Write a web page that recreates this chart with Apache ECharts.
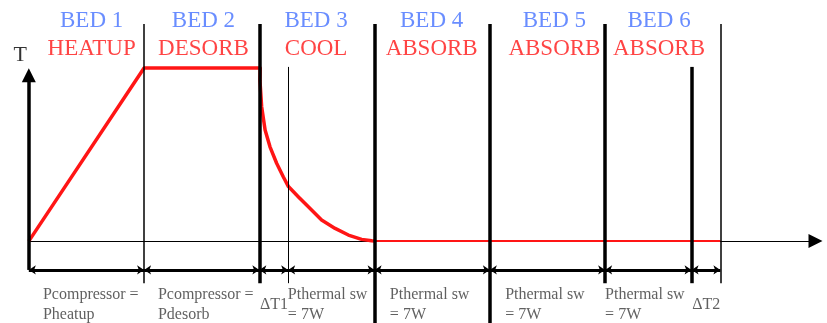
<!DOCTYPE html>
<html>
<head>
<meta charset="utf-8">
<script src="https://cdn.jsdelivr.net/npm/echarts@6/dist/echarts.min.js"></script>
<style>
  html, body { margin: 0; padding: 0; background: #fff; }
  #chart { width: 827px; height: 323px; }
</style>
</head>
<body>
<div id="chart"></div>
<script>
// ---- data (time units along the cycle, temperature in arbitrary units) ----
var boundaries = [0, 4, 8, 9, 12, 16, 20, 23, 24];          // segment edges
var mainDividers = [4, 8, 12, 16, 20, 24];                   // bed boundaries (tall)
var subDividers = [9, 23];                                   // short dividers
var bedNames = ['BED 1', 'BED 2', 'BED 3', 'BED 4', 'BED 5', 'BED 6'];
var phaseNames = ['HEATUP', 'DESORB', 'COOL', 'ABSORB', 'ABSORB', 'ABSORB'];
var labelCenters = [2.18, 6.06, 9.97, 13.98, 18.24, 21.87];
var curveTime = [0, 4, 8.03, 8.02, 8.08, 8.2, 8.37, 8.6, 8.83, 9.01, 9.35, 9.7, 10.16, 10.63, 11.09, 11.55, 11.9, 12];
var curveTemp = [0, 6, 6, 5.58, 4.66, 3.85, 3.27, 2.7, 2.23, 1.89, 1.54, 1.19, 0.73, 0.44, 0.21, 0.06, 0.01, 0];
var absorbTime = [11.95, 24];
var absorbTemp = [0, 0];
var segmentNotes = ['Pcompressor =\nPheatup', 'Pcompressor =\nPdesorb', '\u0394T1',
  'Pthermal sw\n= 7W', 'Pthermal sw\n= 7W', 'Pthermal sw\n= 7W', 'Pthermal sw\n= 7W', '\u0394T2'];
var noteStarts = [0.49, 4.48, 8.02, 8.99, 12.53, 16.53, 20.0, 23.02];
var axisLabel = 'T';

// ---- layout constants ----
var TOP_TALL = 7.53, TOP_SHORT = 6.04, BOTTOM_SHORT = -1.46, BOTTOM_LONG = -3;
var DIM_Y = -1.0;
var serif = 'Liberation Serif';
var BLUE = '#4370ff', RED = '#ff1515';

var dividerLines = [];
boundaries.slice(1).forEach(function (t) {
  var tall = mainDividers.indexOf(t) >= 0;
  var thin = (t === 4 || t === 9 || t === 24);
  var longBottom = (t === 12 || t === 16);
  dividerLines.push({
    coords: [[t, tall ? TOP_TALL : TOP_SHORT], [t, longBottom ? BOTTOM_LONG : BOTTOM_SHORT]],
    lineStyle: { width: thin ? (t === 9 ? 1 : 1.5) : 3.5, color: '#000' }
  });
});

var dimSegments = [];
for (var i = 0; i < boundaries.length - 1; i++) {
  dimSegments.push({ coords: [[boundaries[i], DIM_Y], [boundaries[i + 1], DIM_Y]] });
}

function textLabel(color, size, extra) {
  var l = { show: true, position: 'inside', color: color, fontFamily: serif, fontSize: size,
    formatter: function (p) { return p.value[2]; } };
  for (var k in extra) l[k] = extra[k];
  return l;
}

var chart = echarts.init(document.getElementById('chart'), null, { renderer: 'canvas' });
chart.setOption({
  animation: false,
  backgroundColor: '#fff',
  textStyle: { fontFamily: serif },
  grid: { left: 0, right: 0, top: 0, bottom: 0 },
  xAxis: { type: 'value', min: -1, max: 27.7, show: false },
  yAxis: { type: 'value', min: -2.84, max: 8.36, show: false },
  series: [
    { // horizontal time axis with arrow
      type: 'lines', coordinateSystem: 'cartesian2d', z: 1,
      symbol: ['none', 'triangle'], symbolSize: 14,
      lineStyle: { color: '#000', width: 1.2, opacity: 1 },
      data: [{ coords: [[0, 0], [27.3, 0]] }]
    },
    { // temperature curve
      type: 'line', z: 2, showSymbol: false,
      lineStyle: { color: RED, width: 3.5, join: 'round' },
      data: curveTime.map(function (t, k) { return [t, curveTemp[k]]; })
    },
    { // absorb baseline
      type: 'line', z: 2, showSymbol: false,
      lineStyle: { color: RED, width: 2 },
      data: absorbTime.map(function (t, k) { return [t, absorbTemp[k]]; })
    },
    { // vertical T axis
      type: 'lines', coordinateSystem: 'cartesian2d', z: 4,
      symbol: ['none', 'triangle'], symbolSize: 14,
      lineStyle: { color: '#000', width: 3.5, opacity: 1 },
      data: [{ coords: [[0, DIM_Y], [0, 5.75]] }]
    },
    { // dividers
      type: 'lines', coordinateSystem: 'cartesian2d', z: 3, symbol: 'none',
      lineStyle: { color: '#000', opacity: 1 },
      data: dividerLines
    },
    { // dimension line
      type: 'lines', coordinateSystem: 'cartesian2d', z: 3,
      symbol: ['arrow', 'arrow'], symbolSize: 7,
      lineStyle: { color: '#000', width: 3, opacity: 1 },
      data: dimSegments
    },
    { // bed labels
      type: 'scatter', symbolSize: 0, z: 5,
      label: textLabel(BLUE, 23),
      data: bedNames.map(function (n, k) { return [labelCenters[k], 7.63, n]; })
    },
    { // phase labels
      type: 'scatter', symbolSize: 0, z: 5,
      label: textLabel(RED, 23),
      data: phaseNames.map(function (n, k) { return [labelCenters[k], 6.66, n]; })
    },
    { // axis label
      type: 'scatter', symbolSize: 0, z: 5,
      label: textLabel('#000', 22),
      data: [[-0.3, 6.45, axisLabel]]
    },
    { // segment notes
      type: 'scatter', symbolSize: 0, z: 5,
      label: textLabel('#383838', 16, { position: 'right', distance: 0, lineHeight: 20, align: 'left' }),
      data: segmentNotes.map(function (n, k) { return [noteStarts[k], -2.22, n]; })
    }
  ]
});
</script>
</body>
</html>
